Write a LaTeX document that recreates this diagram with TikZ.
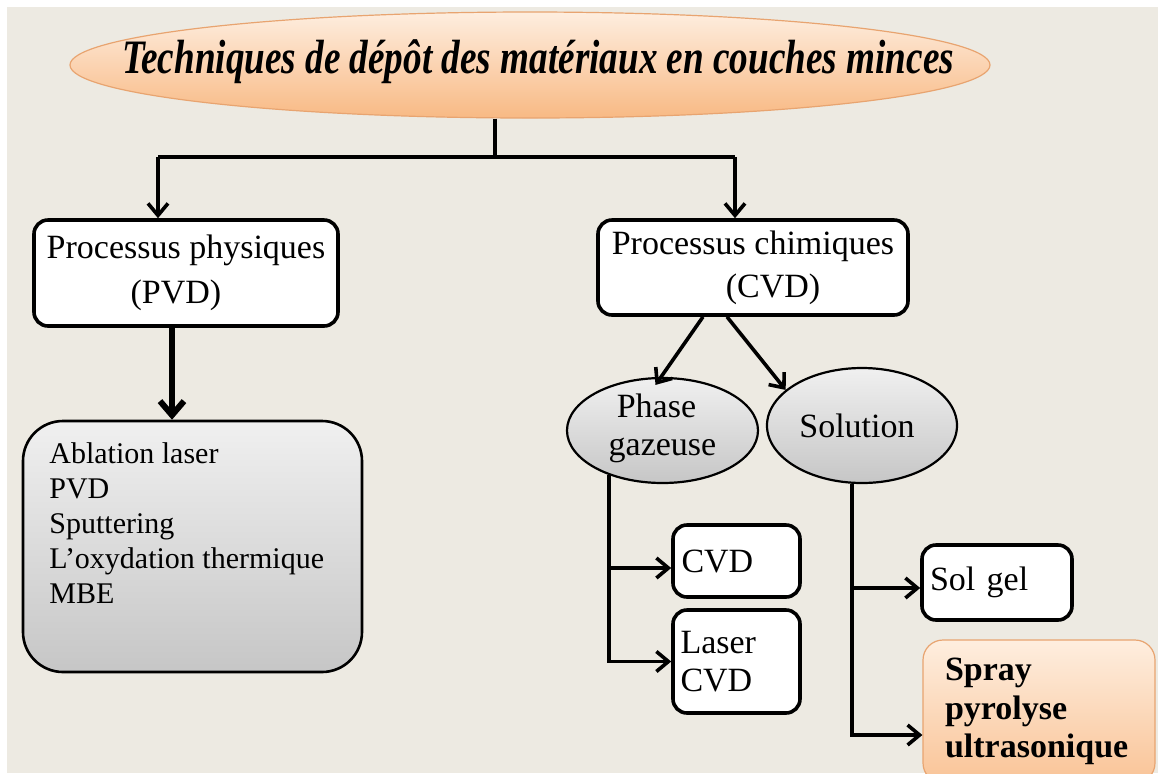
\documentclass[tikz,border=0pt]{standalone}
\usepackage{fontspec}
\usepackage{graphicx}
\setmainfont{Liberation Serif}
\usetikzlibrary{shapes.geometric,arrows.meta,calc}
\definecolor{bgc}{HTML}{EDEAE2}
\definecolor{peachtop}{HTML}{FEEEDF}
\definecolor{peachbot}{HTML}{F8B984}
\definecolor{peachline}{HTML}{E8A470}
\definecolor{graytop}{HTML}{F0F0F0}
\definecolor{graybot}{HTML}{C6C6C6}
\begin{document}
\begin{tikzpicture}[x=0.5pt,y=-0.5pt,
  conn/.style={line width=1.8pt},
  arr/.style={line width=1.8pt,-{Straight Barb[length=6pt,width=10pt]}},
  bigarr/.style={line width=3pt,-{Straight Barb[length=7pt,width=12pt]}},
  wbox/.style={draw, line width=1.8pt, fill=white, rounded corners=7pt, inner sep=0pt},
  txt/.style={font=\fontsize{17}{19.5}\selectfont},
  gell/.style={ellipse, draw, line width=1.1pt, top color=graytop, bottom color=graybot, inner sep=0pt},
]
\clip (0,0) rectangle (1158,773);
\fill[white] (0,0) rectangle (1158,773);
\fill[bgc] (7,7) rectangle (1158,773);

% title
\node[ellipse, draw=peachline, line width=0.6pt, top color=peachtop, bottom color=peachbot,
      minimum width=460pt, minimum height=53pt, inner sep=0pt,
      label={[name=titletext, xshift=4pt, yshift=1.5pt]center:{\resizebox{416pt}{\height}{\fontsize{24}{28}\selectfont\bfseries\itshape Techniques de dépôt des matériaux en couches minces}}}]
  (title) at (530,65) {};

% level 1 boxes
\node[wbox, minimum width=152pt, minimum height=53pt, align=center,
      font=\fontsize{17}{22.5}\selectfont]
  (pvd) at (186,273) {Processus physiques\\(PVD)\hspace*{10pt}};
\node[wbox, minimum width=155pt, minimum height=47.5pt, align=center,
      font=\fontsize{17}{21.5}\selectfont]
  (cvd) at (753,267.5) {Processus chimiques\\\hspace*{20pt}(CVD)};

% gray box
\node[draw, line width=1.3pt, rounded corners=20pt, top color=graytop, bottom color=graybot,
      minimum width=169.5pt, minimum height=125.5pt, inner sep=0pt]
  (gray) at (192.5,546.5) {};
\node[anchor=north west, align=left, inner sep=0pt, font=\fontsize{15}{17.5}\selectfont]
  (graytext) at (49,442) {Ablation laser\\PVD\\Sputtering\\L’oxydation thermique\\MBE};

% ellipses
\node[gell, minimum width=95.5pt, minimum height=52.5pt,
      label={[name=phasetext, xshift=-3pt, yshift=1pt, align=center, font=\fontsize{17}{19}\selectfont]center:{Phase\\\hspace*{6pt}gazeuse}}]
  (phase) at (662.5,430.5) {};
\node[gell, minimum width=95pt, minimum height=57.5pt,
      label={[name=soltext, xshift=-2.5pt, txt]center:{Solution}}]
  (solution) at (862,425.5) {};

% leaf boxes
\node[wbox, minimum width=63.5pt, minimum height=36pt, text width=55pt, align=left, txt]
  (cvdb) at (736.5,561) {CVD};
\node[wbox, minimum width=63.5pt, minimum height=51.5pt, text width=56pt, align=left,
      font=\fontsize{17}{19}\selectfont]
  (laserb) at (736.5,661.5) {Laser\\CVD};
\node[wbox, minimum width=75pt, minimum height=37.5pt, text width=67pt, align=left, txt]
  (solgel) at (997,582.5) {Sol gel};
\node[draw=peachline, line width=0.6pt, rounded corners=10pt, top color=peachtop, bottom color=peachbot!85,
      minimum width=116pt, minimum height=71.5pt, inner sep=0pt, text width=94pt, align=left,
      font=\fontsize{17}{19.25}\selectfont\bfseries]
  (spray) at (1039,711.5) {Spray\\pyrolyse\\ultrasonique};

% connectors
\coordinate (j0) at (495,157);
\coordinate (lx) at (158,157);
\coordinate (rx) at (735,157);
\draw[conn] (title.south -| j0) -- (j0);
\draw[conn] (lx) -- (rx);
\draw[arr] (lx) -- (lx |- pvd.north);
\draw[arr] (rx) -- (rx |- cvd.north);
\draw[bigarr] ([xshift=-7pt]pvd.south) -- ([xshift=-7pt]pvd.south |- gray.north);
\draw[arr] ([xshift=-25pt]cvd.south) -- ([xshift=-3.5pt,yshift=-4pt]phase.north);
\draw[arr] ([xshift=-13pt]cvd.south) -- (solution.155);
\draw[arr] (phase.220) |- ([yshift=-3.5pt]cvdb.west);
\draw[arr] (phase.220) |- (laserb.west);
\draw[arr] (solution.260) |- ([yshift=-2.75pt]solgel.west);
\draw[arr] (solution.260) |- ([yshift=-11.75pt]spray.west);
\end{tikzpicture}
\end{document}
